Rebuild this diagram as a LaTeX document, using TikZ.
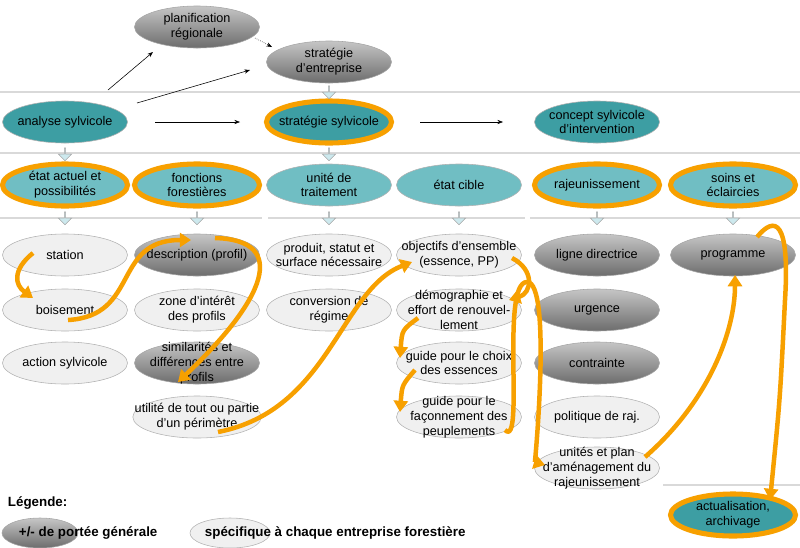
\documentclass[tikz,border=0pt]{standalone}
\usepackage{fontspec}
\setmainfont{Liberation Sans}
\usetikzlibrary{shapes.geometric,shapes.arrows,arrows.meta,calc}
\definecolor{tealdark}{HTML}{3D9EA3}
\definecolor{teallight}{HTML}{70BEC3}
\definecolor{ringor}{HTML}{F7A000}
\definecolor{arrowblue}{HTML}{CDE9EE}
\tikzset{
  bulle/.style={ellipse, minimum width=3.125cm, minimum height=1.05cm, inner xsep=-12pt, inner ysep=-7pt,
    align=center, font=\fontsize{9}{10.5}\selectfont},
  general/.style={bulle, draw=gray!70, top color=gray!45, bottom color=gray!85!black},
  specifique/.style={bulle, draw=gray!60, fill=gray!12},
  niveau/.style={bulle, draw=gray!60, fill=tealdark},
  theme/.style={bulle, draw=gray!60, fill=teallight},
  cle/.style={draw=ringor, line width=3.6pt},
  descente/.style={single arrow, shape border rotate=270, draw=gray!70, fill=arrowblue,
    minimum width=0.33cm, minimum height=0.32cm, single arrow head extend=0.06cm, inner sep=0pt},
  parcours/.style={draw=ringor, line width=3.2pt, -{Triangle[length=8pt,width=10pt]}},
  lien/.style={-{Stealth[length=4pt]}, thin},
  separation/.style={gray!30, line width=1pt}
}
\begin{document}
\begin{tikzpicture}[x=0.025cm,y=-0.025cm]
\useasboundingbox (0,0) rectangle (800,547);

% lignes de séparation
\draw[separation] (0,92) -- (800,92);
\draw[separation] (0,153) -- (800,153);
\draw[separation] (0,218) -- (262,218) (268,218) -- (525,218) (530,218) -- (800,218);
\draw[separation] (663,485) -- (800,485);

% niveau stratégique
\node[general] (planif) at (197,27) {planification\\régionale};
\node[general] (entreprise) at (329,62) {stratégie\\d'entreprise};
\node[niveau] (analyse) at (65,122) {analyse sylvicole};
\node[niveau, cle] (strategie) at (329,122) {stratégie sylvicole};
\node[niveau] (concept) at (597,122) {concept sylvicole\\d'intervention};

% thèmes
\node[theme, cle] (etat) at (65,185) {état actuel et\\possibilités};
\node[theme, cle] (fonctions) at (197,185) {fonctions\\forestières};
\node[theme] (unite) at (329,185) {unité de\\traitement};
\node[theme] (cible) at (459,185) {état cible};
\node[theme, cle] (rajeun) at (597,185) {rajeunissement};
\node[theme, cle] (soins) at (733,185) {soins et\\éclaircies};

% colonne 1
\node[specifique] (station) at (65,255) {station};
\node[specifique] (boisement) at (65,310) {boisement};
\node[specifique] (action) at (65,363) {action sylvicole};
% colonne 2
\node[general] (description) at (197,255) {description (profil)};
\node[specifique] (zone) at (197,310) {zone d'intérêt\\des profils};
\node[general] (similarites) at (197,363) {similarités et\\différences entre\\profils};
\node[specifique] (utilite) at (197,417) {utilité de tout ou partie\\d'un périmètre};
% colonne 3
\node[specifique] (produit) at (329,255) {produit, statut et\\surface nécessaire};
\node[specifique] (conversion) at (329,310) {conversion de\\régime};
% colonne 4
\node[specifique] (objectifs) at (459,255) {objectifs d'ensemble\\(essence, PP)};
\node[specifique] (demo) at (459,310) {démographie et\\effort de renouvel-\\lement};
\node[specifique] (choix) at (459,363) {guide pour le choix\\des essences};
\node[specifique] (faconnement) at (459,417) {guide pour le\\façonnement des\\peuplements};
% colonne 5
\node[general] (ligne) at (597,255) {ligne directrice};
\node[general] (urgence) at (597,310) {urgence};
\node[general] (contrainte) at (597,363) {contrainte};
\node[specifique] (politique) at (597,417) {politique de raj.};
\node[specifique] (unites) at (597,468) {unités et plan\\d'aménagement du\\rajeunissement};
% colonne 6
\node[general] (programme) at (733,255) {programme};
\node[niveau, cle] (actualisation) at (733,515) {actualisation,\\archivage};

% flèches de descente
\node[descente] at (329,92) {};
\foreach \x in {65,329} \node[descente] at (\x,154) {};
\foreach \x in {65,197,329,459,597,733} \node[descente] at (\x,218) {};

% liens entre niveaux
\draw[lien] ($(analyse)+(43,-32)$) -- ($(planif)+(-44,25)$);
\draw[lien] ($(analyse)+(72,-19)$) -- ($(entreprise)+(-79,8)$);
\draw[lien] ($(analyse)+(90,0)$) -- ($(strategie)+(-89,0)$);
\draw[lien] ($(strategie)+(91,0)$) -- ($(concept)+(-94,0)$);
\draw[lien, densely dotted] ($(planif)+(58,11)$) -- ($(entreprise)+(-57,-15)$);

% parcours
\draw[parcours] ($(station)+(-32,-2)$) .. controls (12,270) and (15,285) .. ($(boisement)+(-32,-12)$);
\draw[parcours] ($(boisement)+(3,10)$) .. controls (140,316) and (112,240) .. ($(description)+(-6,-15)$);
\draw[parcours] ($(description)+(18,-17)$) .. controls (290,240) and (265,300) .. ($(utilite)+(-19,-35)$);
\draw[parcours] ($(utilite)+(21,15)$) .. controls (330,410) and (340,290) .. ($(objectifs)+(-47,7)$);
\draw[parcours] ($(objectifs)+(53,3)$) .. controls (535,270) and (532,293) .. ($(demo)+(50,-10)$);
\draw[parcours] ($(demo)+(-41,8)$) .. controls (402,330) .. ($(choix)+(-59,-5)$);
\draw[parcours] ($(choix)+(-44,7)$) .. controls (402,385) .. ($(faconnement)+(-59,-5)$);
\draw[parcours] ($(faconnement)+(46,13)$) .. controls (525,450) and (500,282) .. (527,282)
  .. controls (552,282) and (535,462) .. ($(unites)+(-52,-3)$);
\draw[parcours] ($(unites)+(48,-11)$) .. controls (710,400) and (735,330) .. ($(programme)+(2,20)$);
\draw[parcours] ($(programme)+(24,-18)$) .. controls (775,215) and (790,220) .. (785,300)
  .. controls (780,400) .. ($(actualisation)+(37,-15)$);

% légende
\node[anchor=west, font=\bfseries\fontsize{9.5}{11}\selectfont] (legende) at (3,503) {Légende:};
\node[general, minimum width=1.9cm, minimum height=0.75cm] (legG) at (40,533) {};
\node[anchor=west, font=\bfseries\fontsize{9.5}{11}\selectfont] (legGtxt) at (14,533) {+/- de portée générale};
\node[specifique, minimum width=2cm, minimum height=0.75cm] (legS) at (230,533) {};
\node[anchor=west, font=\bfseries\fontsize{9.5}{11}\selectfont] (legStxt) at (200,533) {spécifique à chaque entreprise forestière};
\end{tikzpicture}
\end{document}
